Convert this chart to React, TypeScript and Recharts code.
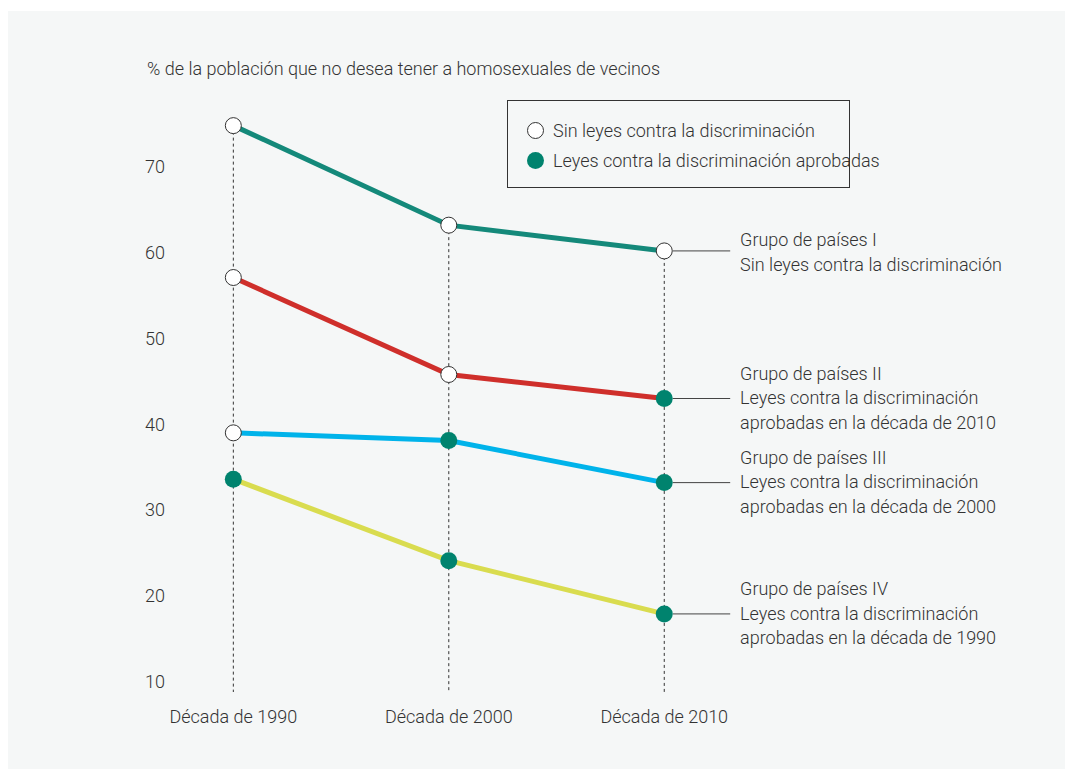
import { LineChart, Line, XAxis, YAxis, ReferenceLine, ReferenceDot } from 'recharts';

const FONT = 'Roboto, "Noto Sans", sans-serif';
const FS = 18;
const FW = 300;

const decades = ['Década de 1990', 'Década de 2000', 'Década de 2010'];
const group1 = [74.8, 63.2, 60.2];
const group2 = [57.1, 45.8, 43.0];
const group3 = [39.0, 38.1, 33.2];
const group4 = [33.6, 24.1, 17.9];
// true = leyes contra la discriminación aprobadas
const laws1 = [false, false, false];
const laws2 = [false, false, true];
const laws3 = [false, true, true];
const laws4 = [true, true, true];
const yTicks = [10, 20, 30, 40, 50, 60, 70];
const title = '% de la población que no desea tener a homosexuales de vecinos';
const legendItems = ['Sin leyes contra la discriminación', 'Leyes contra la discriminación aprobadas'];
const labels1 = ['Grupo de países I', 'Sin leyes contra la discriminación'];
const labels2 = ['Grupo de países II', 'Leyes contra la discriminación', 'aprobadas en la década de 2010'];
const labels3 = ['Grupo de países III', 'Leyes contra la discriminación', 'aprobadas en la década de 2000'];
const labels4 = ['Grupo de países IV', 'Leyes contra la discriminación', 'aprobadas en la década de 1990'];

const data = decades.map((d, i) => ({
  x: i,
  g1: group1[i],
  g2: group2[i],
  g3: group3[i],
  g4: group4[i],
}));

const series = [
  { key: 'g1', color: '#14897a', laws: laws1, values: group1, labels: labels1 },
  { key: 'g2', color: '#cf2f2b', laws: laws2, values: group2, labels: labels2 },
  { key: 'g3', color: '#00b3ea', laws: laws3, values: group3, labels: labels3 },
  { key: 'g4', color: '#d9dc4f', laws: laws4, values: group4, labels: labels4 },
];

const GREEN = '#00836e';
const TEXT = '#333';
const BG = '#f5f7f7';
const LAST = decades.length - 1;

const makeDot = (laws: boolean[]) => (props: any) => {
  const { cx, cy, index } = props;
  if (cx == null || cy == null) return null;
  return laws[index] ? (
    <circle key={index} cx={cx} cy={cy} r={8.5} fill={GREEN} />
  ) : (
    <circle key={index} cx={cx} cy={cy} r={8} fill="#fff" stroke="#333" strokeWidth={1} />
  );
};

const SideLabel = ({ viewBox, lines }: any) => {
  if (!viewBox) return null;
  const first = lines.length === 2 ? -11 : -25;
  return (
    <text x={viewBox.x} y={viewBox.y} fontFamily={FONT} fontSize={FS} fontWeight={FW} fill={TEXT}>
      {lines.map((l: string, i: number) => (
        <tspan key={i} x={viewBox.x} y={viewBox.y + first + i * 24.5} dy="0.35em">{l}</tspan>
      ))}
    </text>
  );
};

const LegendBox = () => (
  <div
    style={{
      position: 'absolute',
      left: 499,
      top: 89,
      border: '1px solid #333',
      width: 341,
      height: 72,
      fontFamily: FONT,
      fontSize: FS,
      fontWeight: FW,
      color: TEXT,
      paddingTop: 14,
    }}
  >
    {legendItems.map((t, i) => (
      <div key={t} style={{ display: 'flex', alignItems: 'center', height: 30, paddingLeft: 18 }}>
        <svg width={19} height={19} style={{ marginRight: 8, flex: 'none' }}>
          {i === 0 ? (
            <circle cx={9.5} cy={9.5} r={8} fill="#fff" stroke="#333" strokeWidth={1} />
          ) : (
            <circle cx={9.5} cy={9.5} r={8.5} fill={GREEN} />
          )}
        </svg>
        <span style={{ whiteSpace: 'nowrap' }}>{t}</span>
      </div>
    ))}
  </div>
);

export default function App() {
  return (
    <div style={{ position: 'fixed', left: 8, top: 11, width: 1057, height: 758, background: BG }}>
      <div
        style={{
          position: 'absolute',
          left: 139,
          top: 47,
          fontFamily: FONT,
          fontSize: FS,
          fontWeight: FW,
          color: TEXT,
          whiteSpace: 'nowrap',
        }}
      >
        {title}
      </div>
      <LineChart
        width={1057}
        height={758}
        data={data}
        margin={{ top: 70, right: 56, left: 105, bottom: 47 }}
      >
        <XAxis
          dataKey="x"
          type="number"
          domain={[-0.28, 3.6]}
          ticks={decades.map((_, i) => i)}
          tickFormatter={(v: number) => decades[v] ?? ''}
          axisLine={false}
          tickLine={false}
          tickMargin={12}
          height={30}
          tick={{ fontFamily: FONT, fontSize: FS, fontWeight: FW, fill: TEXT }}
          allowDataOverflow
        />
        <YAxis
          type="number"
          domain={[8.8, 80]}
          ticks={yTicks}
          axisLine={false}
          tickLine={false}
          width={60}
          tick={{ fontFamily: FONT, fontSize: FS, fontWeight: FW, fill: TEXT }}
          allowDataOverflow
        />
        {decades.map((_, i) => (
          <ReferenceLine
            key={'v' + i}
            segment={[{ x: i, y: group1[i] }, { x: i, y: 8.8 }]}
            stroke="#333"
            strokeDasharray="3 3"
            strokeWidth={1}
          />
        ))}
        {series.map((s) => (
          <ReferenceLine
            key={'h' + s.key}
            segment={[{ x: LAST + 0.04, y: s.values[LAST] }, { x: LAST + 0.306, y: s.values[LAST] }]}
            stroke="#444"
            strokeWidth={1}
          />
        ))}
        {series.map((s) => (
          <ReferenceDot
            key={'l' + s.key}
            x={LAST + 0.352}
            y={s.values[LAST]}
            r={0}
            fill="none"
            stroke="none"
            label={<SideLabel lines={s.labels} />}
          />
        ))}
        {series.map((s) => (
          <Line
            key={s.key}
            dataKey={s.key}
            type="linear"
            stroke={s.color}
            strokeWidth={5}
            dot={makeDot(s.laws)}
            activeDot={false}
            isAnimationActive={false}
          />
        ))}
      </LineChart>
      <LegendBox />
    </div>
  );
}
